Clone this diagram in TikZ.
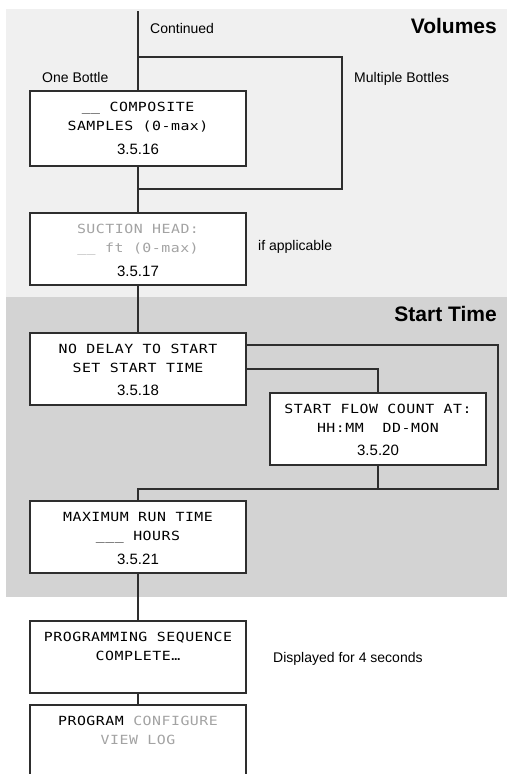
\documentclass[tikz,border=0pt]{standalone}
\usepackage{fontspec}
\setmainfont{Liberation Sans}
\newfontfamily\lcdfont[FakeStretch=1.18,LetterSpace=4]{DejaVu Sans Mono}
\definecolor{bglight}{HTML}{F0F0F0}
\definecolor{bgdark}{HTML}{D3D3D3}
\definecolor{linecol}{HTML}{2E2E2E}
\definecolor{dimtext}{HTML}{A3A3A3}
\tikzset{
  box/.style={draw=linecol, line width=1.3pt, fill=white, minimum width=216pt, minimum height=72pt, inner sep=0pt, outer sep=0pt},
  openbox/.style={draw=none, minimum width=216pt, minimum height=69pt, inner sep=0pt, outer sep=0pt},
  mono/.style={font=\lcdfont\fontsize{12.6}{14}\selectfont, anchor=base, inner sep=0pt},
  num/.style={font=\fontsize{15}{18}\selectfont, anchor=base, inner sep=0pt},
  lbl/.style={font=\fontsize{14}{16}\selectfont, anchor=base west, inner sep=0pt},
  head/.style={font=\bfseries\fontsize{21}{24}\selectfont, anchor=base east, inner sep=0pt},
  conn/.style={draw=linecol, line width=1.3pt}
}
\begin{document}
\begin{tikzpicture}[x=1pt,y=-1pt]
\useasboundingbox (0,0) rectangle (507,774);
% background bands
\fill[bglight] (6,9) rectangle (507,297);
\fill[bgdark] (6,297) rectangle (507,597);

% boxes
\node[box, minimum height=75pt] (b1) at (138,128.5) {};
\node[box] (b2) at (138,249) {};
\node[box] (b3) at (138,369) {};
\node[box] (b5) at (378,429) {};
\node[box] (b4) at (138,537) {};
\node[box] (b6) at (138,657) {};
\node[openbox] (b7) at (138,739.5) {};
\fill[white] (b7.south west) rectangle (b7.north east);
\draw[conn] (b7.south west) -- (b7.north west) -- (b7.north east) -- (b7.south east);

% box texts
\node[mono] (t1a) at (138,111.5) {\_\_ COMPOSITE};
\node[mono] (t1b) at (138,130.5) {SAMPLES (0-max)};
\node[num]  (t1c) at (138,154) {3.5.16};

\node[mono, text=dimtext] (t2a) at (138,233.5) {SUCTION HEAD:};
\node[mono, text=dimtext] (t2b) at (138,252.5) {\_\_ ft (0-max)};
\node[num]  (t2c) at (138,276) {3.5.17};

\node[mono] (t3a) at (138,353.5) {NO DELAY TO START};
\node[mono] (t3b) at (138,372.5) {SET START TIME};
\node[num]  (t3c) at (138,395.5) {3.5.18};

\node[mono] (t5a) at (378,413.7) {START FLOW COUNT AT:};
\node[mono] (t5b) at (378,432.5) {HH:MM~~DD-MON};
\node[num]  (t5c) at (378,455) {3.5.20};

\node[mono] (t4a) at (138,521.7) {MAXIMUM RUN TIME};
\node[mono] (t4b) at (138,540.5) {\_\_\_ HOURS};
\node[num]  (t4c) at (138,564) {3.5.21};

\node[mono] (t6a) at (138,641.7) {PROGRAMMING SEQUENCE};
\node[mono] (t6b) at (138,660.5) {COMPLETE…};

\node[mono] (t7a) at (138,725.7) {PROGRAM \textcolor{dimtext}{CONFIGURE}};
\node[mono, text=dimtext] (t7b) at (138,744.5) {VIEW LOG};

% labels
\node[lbl] (lcont) at (150,33) {Continued};
\node[head] (hvol) at (497,33) {Volumes};
\node[lbl] (lone) at (42,82) {One Bottle};
\node[lbl] (lmult) at (354,82) {Multiple Bottles};
\node[lbl] (lif) at (258,250) {if applicable};
\node[head] (hst) at (497,321) {Start Time};
\node[lbl] (ldisp) at (273,662) {Displayed for 4 seconds};

% connectors
\coordinate (top) at (138,11);
\coordinate (j1) at (138,57);
\coordinate (j1r) at (342,57);
\coordinate (j2r) at (342,189);
\coordinate (j2) at (138,189);
\coordinate (r1) at (498,345);
\coordinate (r2) at (498,489);
\coordinate (s1) at (378,369);
\draw[conn] (top) -- (b1.north);
\draw[conn] (j1) -- (j1r) -- (j2r) -- (j2);
\draw[conn] (b1.south) -- (b2.north);
\draw[conn] (b2.south) -- (b3.north);
\draw[conn] (b3.east |- r1) -- (r1) -- (r2) -- (b4.north |- r2) -- (b4.north);
\draw[conn] (b3.east |- s1) -- (s1) -- (b5.north);
\draw[conn] (b5.south) -- (b5.south |- r2);
\draw[conn] (b4.south) -- (b6.north);
\draw[conn] (b6.south) -- (b7.north);
\end{tikzpicture}
\end{document}
